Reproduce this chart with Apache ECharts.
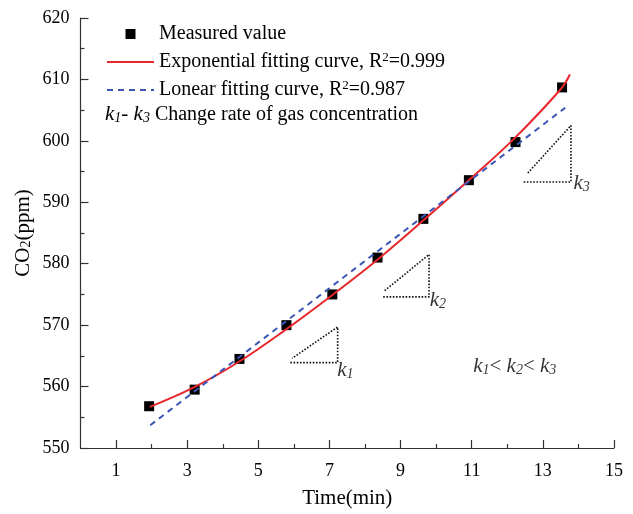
<!DOCTYPE html>
<html>
<head>
<meta charset="utf-8">
<script src="https://cdn.jsdelivr.net/npm/echarts@6/dist/echarts.min.js"></script>
<style>
html, body { margin: 0; padding: 0; background: #fff; }
#chart { width: 633px; height: 514px; }
</style>
</head>
<body>
<div id="chart"></div>
<script>
//测量值 (min, ppm)
var measuredTime = [1.93, 3.21, 4.47, 5.79, 7.08, 8.35, 9.64, 10.92, 12.23, 13.54];
var measuredCO2  = [556.8, 559.5, 564.5, 570.0, 575.0, 581.0, 587.3, 593.6, 599.8, 608.7];

//指数拟合曲线 (读图取点)
var expTime = [1.95, 3.2, 4.5, 5.8, 7.1, 8.4, 9.65, 10.9, 12.2, 13.5, 13.76];
var expCO2  = [556.7, 559.9, 564.2, 569.4, 575.0, 580.9, 587.1, 593.5, 600.4, 608.4, 610.8];

//线性拟合曲线
var linTime = [1.96, 13.63];
var linCO2  = [553.7, 605.4];

//k1 - k3 三角形
var triK1 = [[5.90, 563.9], [7.23, 563.9], [7.23, 569.7], [5.95, 564.6]];
var triK2 = [[8.51, 574.6], [9.80, 574.6], [9.80, 581.5], [8.55, 575.6]];
var triK3 = [[12.46, 593.3], [13.79, 593.3], [13.79, 602.5], [12.55, 594.6]];

//标注文字位置
var noteText = [
    [7.22, 562.7, '{k|k}{s|1}'],
    [9.82, 574.0, '{k|k}{s|2}'],
    [13.86, 593.1, '{k|k}{s|3}'],
    [11.04, 563.3, '{k|k}{s|1}{n|< }{k|k}{s|2}{n|< }{k|k}{s|3}']
];

var xMajor = [1, 3, 5, 7, 9, 11, 13, 15];
var xMinor = [2, 4, 6, 8, 10, 12, 14];

var FONT = '"Times New Roman", "Liberation Serif", serif';

function pairs(xs, ys) {
    var out = [];
    for (var i = 0; i < xs.length; i++) out.push([xs[i], ys[i]]);
    return out;
}

var richText = {
    t   : { fontFamily: FONT, fontSize: 20, color: '#000', lineHeight: 22 },
    sup : { fontFamily: FONT, fontSize: 13, color: '#000', lineHeight: 13, verticalAlign: 'top' },
    k   : { fontFamily: FONT, fontSize: 21, fontStyle: 'italic', color: '#000', lineHeight: 22 },
    s   : { fontFamily: FONT, fontSize: 14, fontStyle: 'italic', color: '#000', lineHeight: 12, verticalAlign: 'bottom' },
    n   : { fontFamily: FONT, fontSize: 21, color: '#000', lineHeight: 22 }
};

var triStyle = { color: '#111', width: 1.6, type: 'dotted' };

function triSeries(d) {
    return {
        type: 'line', data: d, symbol: 'none', silent: true,
        lineStyle: triStyle, z: 1
    };
}

var chart = echarts.init(document.getElementById('chart'));

chart.setOption({
    backgroundColor: '#fff',
    animation: false,
    grid: { left: 80.5, right: 19, top: 18, bottom: 62 },
    legend: {
        orient: 'vertical',
        left: 101, top: 19,
        itemWidth: 47, itemHeight: 10, itemGap: 7,
        data: [
            { name: 'Measured value', icon: 'path://M0,0H10V10H0Z' },
            { name: 'Exponential fitting curve', itemStyle: { opacity: 0 } },
            { name: 'Lonear fitting curve', itemStyle: { opacity: 0 } }
        ],
        formatter: function (name) {
            if (name === 'Exponential fitting curve') return '{t|Exponential fitting curve, R}{sup|2}{t|=0.999}';
            if (name === 'Lonear fitting curve') return '{t|Lonear fitting curve, R}{sup|2}{t|=0.987}';
            return '{t|' + name + '}';
        },
        textStyle: { rich: richText }
    },
    graphic: [{
        type: 'text', left: 105, top: 104,
        style: {
            text: '{k|k}{s|1}{n|- }{k|k}{s|3}{t| Change rate of gas concentration}',
            rich: richText
        }
    }],
    xAxis: [{
        type: 'value', min: 0, max: 15, interval: 1,
        name: 'Time(min)', nameLocation: 'middle', nameGap: 40,
        nameTextStyle: { fontFamily: FONT, fontSize: 21, color: '#000' },
        axisLine: { lineStyle: { color: '#333', width: 1.2 } },
        axisTick: { inside: true, length: 8, customValues: xMajor, lineStyle: { color: '#333', width: 1.2 } },
        axisLabel: { customValues: xMajor, margin: 14, fontFamily: FONT, fontSize: 18, color: '#000' },
        splitLine: { show: false }
    }, {
        type: 'value', min: 0, max: 15, interval: 1, position: 'bottom',
        axisLine: { show: false },
        axisTick: { inside: true, length: 4, customValues: xMinor, lineStyle: { color: '#333', width: 1.2 } },
        axisLabel: { show: false },
        splitLine: { show: false }
    }],
    yAxis: {
        type: 'value', min: 550, max: 620, interval: 10,
        name: 'CO{sub|2}(ppm)', nameLocation: 'middle', nameGap: 47, nameMoveOverlap: false,
        nameTextStyle: {
            fontFamily: FONT, fontSize: 21, color: '#000',
            rich: {
                sub: { fontFamily: FONT, fontSize: 14, color: '#000', verticalAlign: 'bottom', lineHeight: 14 }
            }
        },
        axisLine: { show: true, lineStyle: { color: '#333', width: 1.2 } },
        axisTick: { inside: true, length: 8, lineStyle: { color: '#333', width: 1.2 } },
        minorTick: { show: true, splitNumber: 2, length: 4, lineStyle: { color: '#333', width: 1.2 } },
        axisLabel: { margin: 11, fontFamily: FONT, fontSize: 18, color: '#000' },
        splitLine: { show: false }
    },
    series: [{
        name: 'Measured value', type: 'scatter', symbol: 'rect', symbolSize: 10,
        itemStyle: { color: '#000', opacity: 1 },
        data: pairs(measuredTime, measuredCO2), z: 2
    }, {
        name: 'Exponential fitting curve', type: 'line', smooth: 0.4, symbol: 'none',
        itemStyle: { color: '#e8262b' },
        lineStyle: { color: '#e8262b', width: 2 },
        data: pairs(expTime, expCO2), z: 3
    }, {
        name: 'Lonear fitting curve', type: 'line', symbol: 'none',
        itemStyle: { color: '#3b55b5' },
        lineStyle: { color: '#3b55b5', width: 2, type: [6, 5] },
        data: pairs(linTime, linCO2), z: 4
    },
    triSeries(triK1), triSeries(triK2), triSeries(triK3),
    {
        type: 'scatter', symbolSize: 0, silent: true,
        data: noteText,
        label: {
            show: true, position: [0, 0], align: 'left', verticalAlign: 'middle',
            formatter: function (p) { return p.data[2]; },
            rich: richText
        }
    }]
});
</script>
</body>
</html>
